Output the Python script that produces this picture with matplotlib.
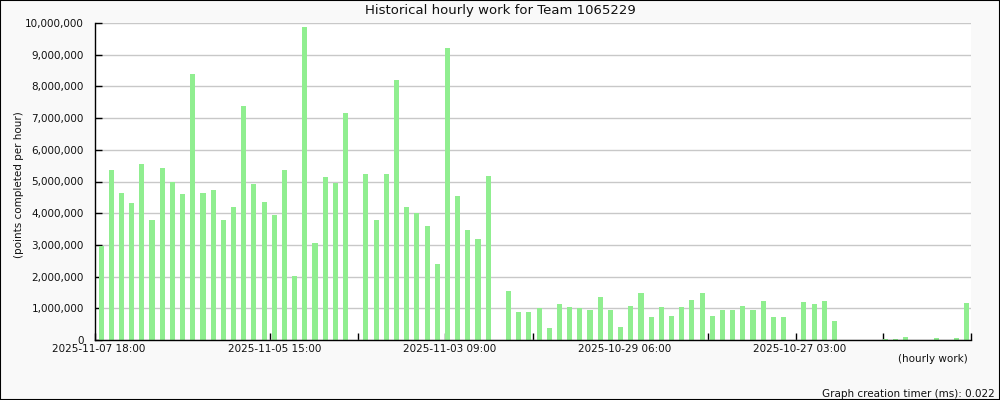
import matplotlib
matplotlib.use("Agg")
from matplotlib import pyplot as plt
from matplotlib.patches import Rectangle
import matplotlib.transforms as mtransforms
import numpy as np

# hourly work, millions of points (newest first)
work_m = [2.98, 5.37, 4.65, 4.31, 5.54, 3.77, 5.44, 5.00, 4.59, 8.38,
          4.65, 4.72, 3.77, 4.21, 7.37, 4.91, 4.34, 3.93, 5.35, 2.03,
          9.86, 3.07, 5.13, 4.94, 7.15, 0.00, 5.25, 3.77, 5.25, 8.19,
          4.18, 4.01, 3.61, 2.41, 9.20, 4.53, 3.48, 3.20, 5.16, 0.00,
          1.56, 0.89, 0.89, 1.01, 0.39, 1.15, 1.05, 1.01, 0.96, 1.37,
          0.96, 0.42, 1.08, 1.49, 0.74, 1.05, 0.77, 1.05, 1.27, 1.49,
          0.77, 0.96, 0.96, 1.08, 0.96, 1.24, 0.74, 0.74, 0.00, 1.21,
          1.15, 1.24, 0.61, 0.00, 0.00, 0.00, 0.00, 0.03, 0.03, 0.09,
          0.00, 0.00, 0.06, 0.00, 0.06, 1.17]
tick_labels = ["2025-11-07 18:00", "2025-11-05 15:00", "2025-11-03 09:00",
               "2025-10-29 06:00", "2025-10-27 03:00"]
y_ticks = list(range(0, 10000001, 1000000))

title = "Historical hourly work for Team 1065229"
y_title = "(points completed per hour)"
x_title = "(hourly work)"
footer = "Graph creation timer (ms): 0.022"

plt.rcParams['font.family'] = 'DejaVu Sans'

values = np.array(work_m) * 1e6
n = len(values)
xs = np.arange(n)

fig = plt.figure(figsize=(10, 4), dpi=100, facecolor='#f9f9f9')
ax = fig.add_axes([0.095, 0.15, 0.876, 0.7925])
ax.set_facecolor('white')

ax.bar(xs + 0.1, values, width=0.5, color='#90ee90', zorder=3)

ax.set_xlim(-0.5, n - 0.5)
ax.set_ylim(0, 10000000)
ax.set_yticks(y_ticks)
ax.set_yticklabels(['{:,}'.format(v) for v in y_ticks])
ax.grid(axis='y', color='#c8c8c8', linewidth=1, zorder=0)

span = n
major = [-0.5 + span * f for f in (0, 0.2, 0.4, 0.6, 0.8, 1.0)]
minor = [-0.5 + span * f for f in (0.1, 0.3, 0.5, 0.7, 0.9)]
ax.set_xticks(major)
ax.set_xticklabels(tick_labels + [''])
ax.set_xticks(minor, minor=True)

ax.tick_params(axis='both', which='both', direction='in', length=5,
               width=1, color='black', labelsize=7.5, labelcolor='#111111')
ax.tick_params(axis='x', pad=3)
ax.tick_params(axis='y', pad=8)
offset = mtransforms.ScaledTranslation(4 / 100, 0, fig.dpi_scale_trans)
for lbl in ax.get_xticklabels():
    lbl.set_transform(lbl.get_transform() + offset)

for side in ('top', 'right'):
    ax.spines[side].set_visible(False)
for side in ('left', 'bottom'):
    ax.spines[side].set_linewidth(1)
    ax.spines[side].set_zorder(4)

fig.text(0.5, 1 - 10.5 / 400, title, ha='center', va='center', fontsize=9.5, color='#111111')
fig.text(19 / 1000, 1 - 184.5 / 400, y_title, rotation=90, ha='center', va='center',
         fontsize=7.5, color='#111111')
fig.text(968 / 1000, 1 - 359 / 400, x_title, ha='right', va='center', fontsize=7.5, color='#111111')
fig.text(995 / 1000, 1 - 394 / 400, footer, ha='right', va='center', fontsize=7.5, color='#111111')

fig.patches.append(Rectangle((0, 0), 1, 1, transform=fig.transFigure, fill=False,
                             edgecolor='black', linewidth=1.5, zorder=10))

fig.savefig('out.png', dpi=100, facecolor=fig.get_facecolor())
